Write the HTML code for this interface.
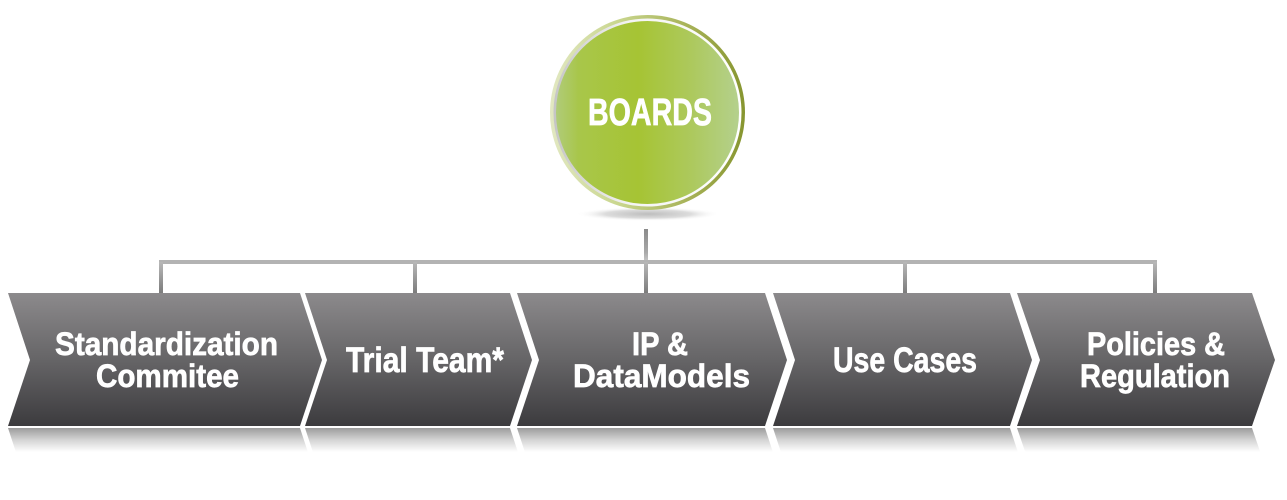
<!DOCTYPE html>
<html>
<head>
<meta charset="utf-8">
<style>
  html, body { margin: 0; padding: 0; background: #ffffff; }
  body { width: 1287px; height: 500px; overflow: hidden; }
  svg { display: block; }
  text { font-family: "Liberation Sans", Arial, sans-serif; font-weight: bold; fill: #ffffff; stroke: #ffffff; stroke-width: 0.7px; }
</style>
</head>
<body>
<svg width="1287" height="500" viewBox="0 0 1287 500" xmlns="http://www.w3.org/2000/svg">
  <defs>
    <linearGradient id="chev" x1="0" y1="293" x2="0" y2="426" gradientUnits="userSpaceOnUse">
      <stop offset="0" stop-color="#8c8a8c"/>
      <stop offset="0.5" stop-color="#666567"/>
      <stop offset="1" stop-color="#3c3b3e"/>
    </linearGradient>
    <linearGradient id="refl" x1="0" y1="428" x2="0" y2="452" gradientUnits="userSpaceOnUse">
      <stop offset="0" stop-color="#9c9c9c"/>
      <stop offset="0.5" stop-color="#d4d4d4"/>
      <stop offset="1" stop-color="#ffffff"/>
    </linearGradient>
    <linearGradient id="vline" x1="0" y1="262" x2="0" y2="293" gradientUnits="userSpaceOnUse">
      <stop offset="0" stop-color="#b8b8b8"/>
      <stop offset="1" stop-color="#7c7c7c"/>
    </linearGradient>
    <linearGradient id="trunk" x1="0" y1="229" x2="0" y2="262" gradientUnits="userSpaceOnUse">
      <stop offset="0" stop-color="#8a8a8a"/>
      <stop offset="0.7" stop-color="#a8a8a8"/>
      <stop offset="1" stop-color="#c8c8c8"/>
    </linearGradient>
    <linearGradient id="ring" x1="550" y1="0" x2="745" y2="0" gradientUnits="userSpaceOnUse">
      <stop offset="0" stop-color="#e2e8c2"/>
      <stop offset="0.35" stop-color="#c9d68e"/>
      <stop offset="0.75" stop-color="#a3ae52"/>
      <stop offset="1" stop-color="#86952f"/>
    </linearGradient>
    <linearGradient id="inner" x1="555" y1="0" x2="740" y2="0" gradientUnits="userSpaceOnUse">
      <stop offset="0" stop-color="#c6c6c6"/>
      <stop offset="0.4" stop-color="#f4f4f4"/>
      <stop offset="1" stop-color="#ffffff"/>
    </linearGradient>
    <linearGradient id="disc" x1="557" y1="0" x2="738" y2="0" gradientUnits="userSpaceOnUse">
      <stop offset="0" stop-color="#b0cb78"/>
      <stop offset="0.12" stop-color="#a8c64a"/>
      <stop offset="0.45" stop-color="#a6c434"/>
      <stop offset="0.75" stop-color="#adc95e"/>
      <stop offset="1" stop-color="#b4d08c"/>
    </linearGradient>
    <radialGradient id="shadow" cx="0.5" cy="0.5" r="0.5">
      <stop offset="0" stop-color="#bdbdbd"/>
      <stop offset="0.6" stop-color="#dcdcdc"/>
      <stop offset="1" stop-color="#ffffff" stop-opacity="0"/>
    </radialGradient>
  </defs>

  <!-- shadow under circle -->
  <ellipse cx="648" cy="214" rx="72" ry="7" fill="url(#shadow)"/>

  <!-- circle -->
  <circle cx="647.5" cy="112.5" r="97.5" fill="url(#ring)"/>
  <circle cx="647.5" cy="112.5" r="94" fill="url(#inner)"/>
  <circle cx="647.5" cy="112.5" r="91.5" fill="url(#disc)"/>
  <text x="588" y="125" font-size="38" textLength="124" lengthAdjust="spacingAndGlyphs">BOARDS</text>

  <!-- connectors -->
  <rect x="644" y="229" width="4" height="33" fill="url(#trunk)"/>
  <rect x="159" y="260" width="998" height="4" fill="#b3b3b3"/>
  <rect x="159" y="262" width="4" height="31" fill="url(#vline)"/>
  <rect x="413" y="262" width="4" height="31" fill="url(#vline)"/>
  <rect x="644" y="262" width="4" height="31" fill="url(#vline)"/>
  <rect x="903" y="262" width="4" height="31" fill="url(#vline)"/>
  <rect x="1153" y="262" width="4" height="31" fill="url(#vline)"/>

  <!-- reflections -->
  <g fill="url(#refl)">
    <polygon points="8,428 300,428 322,495 8,495 30,495"/>
    <polygon points="305,428 510,428 532,495 327,495"/>
    <polygon points="517,428 765,428 787,495 539,495"/>
    <polygon points="773,428 1010,428 1032,495 795,495"/>
    <polygon points="1017,428 1252,428 1275,495 1040,495"/>
  </g>
  <rect x="0" y="452" width="1287" height="48" fill="#ffffff"/>

  <!-- chevrons -->
  <g fill="url(#chev)">
    <polygon points="8,293 300,293 322,360 300,426 8,426 30,360"/>
    <polygon points="305,293 510,293 532,360 510,426 305,426 327,360"/>
    <polygon points="517,293 765,293 787,360 765,426 517,426 539,360"/>
    <polygon points="773,293 1010,293 1032,360 1010,426 773,426 795,360"/>
    <polygon points="1017,293 1252,293 1275,360 1252,426 1017,426 1040,360"/>
  </g>

  <!-- labels -->
  <text x="55" y="355" font-size="32" textLength="223" lengthAdjust="spacingAndGlyphs">Standardization</text>
  <text x="96" y="387" font-size="32" textLength="143" lengthAdjust="spacingAndGlyphs">Commitee</text>

  <text x="346" y="372" font-size="35" textLength="158" lengthAdjust="spacingAndGlyphs">Trial Team*</text>

  <text x="632" y="355" font-size="32" textLength="56" lengthAdjust="spacingAndGlyphs">IP &amp;</text>
  <text x="573" y="387" font-size="32" textLength="177" lengthAdjust="spacingAndGlyphs">DataModels</text>

  <text x="833" y="372" font-size="35" textLength="144" lengthAdjust="spacingAndGlyphs">Use Cases</text>

  <text x="1087" y="355" font-size="32" textLength="138" lengthAdjust="spacingAndGlyphs">Policies &amp;</text>
  <text x="1080" y="387" font-size="32" textLength="150" lengthAdjust="spacingAndGlyphs">Regulation</text>
</svg>
</body>
</html>
